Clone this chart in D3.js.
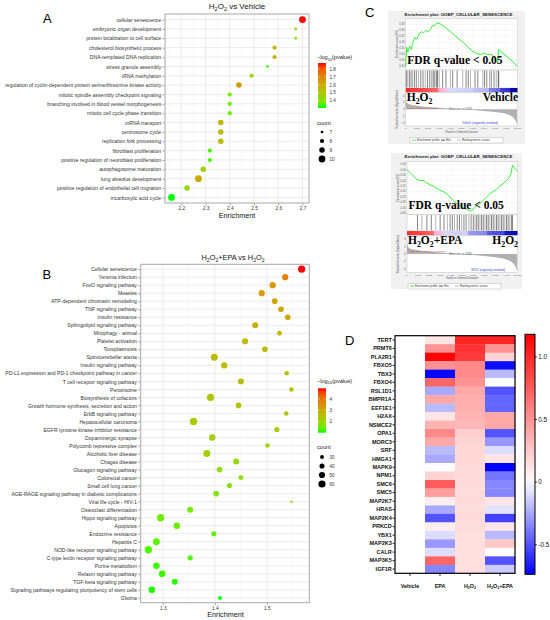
<!DOCTYPE html>
<html>
<head>
<meta charset="utf-8">
<script src="https://cdn.jsdelivr.net/npm/d3@7"></script>
<style>
  body { margin: 0; background: #fff; }
  svg { display: block; }
  text { font-family: "Liberation Sans", Arial, sans-serif; }
</style>
</head>
<body>
<svg id="fig" width="550" height="620"></svg>
<script>
// ---------- panel A : H2O2 vs Vehicle (GO terms)
const termsA = ['cellular senescence', 'embryonic organ development', 'protein localization to cell surface',
  'cholesterol biosynthetic process', 'DNA-templated DNA replication', 'stress granule assembly', 'tRNA methylation',
  'regulation of cyclin-dependent protein serine/threonine kinase activity', 'mitotic spindle assembly checkpoint signaling',
  'branching involved in blood vessel morphogenesis', 'mitotic cell cycle phase transition', 'mRNA transport',
  'centrosome cycle', 'replication fork processing', 'fibroblast proliferation',
  'positive regulation of neuroblast proliferation', 'autophagosome maturation', 'lung alveolus development',
  'positive regulation of endothelial cell migration', 'tricarboxylic acid cycle'];
const enrichA = [2.70, 2.672, 2.672, 2.585, 2.585, 2.556, 2.49, 2.438, 2.40, 2.40, 2.40, 2.363, 2.363, 2.363,
  2.318, 2.318, 2.291, 2.271, 2.224, 2.16];
const countA = [10, 7, 7, 8, 8, 7, 8, 9, 8, 8, 8, 9, 9, 9, 8, 8, 9, 10, 9, 10];
const logpA = [1.875, 1.40, 1.40, 1.57, 1.57, 1.33, 1.45, 1.64, 1.38, 1.38, 1.38, 1.55, 1.55, 1.55,
  1.34, 1.34, 1.48, 1.60, 1.45, 1.31];
const ticksA = [2.2, 2.3, 2.4, 2.5, 2.6, 2.7];
const colTicksA = [1.4, 1.5, 1.6, 1.7, 1.8];
const countLegA = [7, 8, 9, 10];

// ---------- panel B : H2O2+EPA vs H2O2 (KEGG)
const termsB = ['Cellular senescence', 'Yersinia infection', 'FoxO signaling pathway', 'Measles',
  'ATP-dependent chromatin remodeling', 'TNF signaling pathway', 'Insulin resistance', 'Sphingolipid signaling pathway',
  'Mitophagy - animal', 'Platelet activation', 'Toxoplasmosis', 'Spinocerebellar ataxia', 'Insulin signaling pathway',
  'PD-L1 expression and PD-1 checkpoint pathway in cancer', 'T cell receptor signaling pathway', 'Peroxisome',
  'Biosynthesis of cofactors', 'Growth hormone synthesis, secretion and action', 'ErbB signaling pathway',
  'Hepatocellular carcinoma', 'EGFR tyrosine kinase inhibitor resistance', 'Dopaminergic synapse',
  'Polycomb repressive complex', 'Alcoholic liver disease', 'Chagas disease', 'Glucagon signaling pathway',
  'Colorectal cancer', 'Small cell lung cancer', 'AGE-RAGE signaling pathway in diabetic complications',
  'Viral life cycle - HIV-1', 'Osteoclast differentiation', 'Hippo signaling pathway', 'Apoptosis',
  'Endocrine resistance', 'Hepatitis C', 'NOD-like receptor signaling pathway', 'C-type lectin receptor signaling pathway',
  'Purine metabolism', 'Relaxin signaling pathway', 'TGF-beta signaling pathway',
  'Signaling pathways regulating pluripotency of stem cells', 'Glioma'];
const enrichB = [1.5666, 1.535, 1.511, 1.49, 1.515, 1.527, 1.540, 1.4775, 1.524, 1.458, 1.496, 1.399, 1.418,
  1.538, 1.45, 1.547, 1.3916, 1.4455, 1.537, 1.359, 1.519, 1.395, 1.501, 1.3846, 1.441, 1.409, 1.45, 1.428,
  1.4025, 1.547, 1.3525, 1.296, 1.327, 1.398, 1.2877, 1.2723, 1.3525, 1.2877, 1.2987, 1.323, 1.279, 1.41];
const countB = [62, 50, 50, 50, 45, 45, 45, 48, 38, 50, 45, 58, 52, 35, 48, 35, 60, 45, 35, 62, 40, 52, 35, 58,
  48, 45, 38, 40, 45, 20, 48, 62, 52, 40, 58, 62, 42, 55, 55, 48, 55, 30];
const logpB = [4.94, 3.77, 3.38, 3.30, 3.18, 3.10, 3.06, 2.90, 2.79, 2.67, 2.67, 2.60, 2.60, 2.52, 2.52, 2.48,
  2.48, 2.44, 2.40, 2.32, 2.28, 2.20, 2.20, 2.12, 2.00, 1.89, 1.81, 1.81, 1.73, 1.66, 1.58, 1.50, 1.46, 1.42,
  1.34, 1.26, 1.26, 1.19, 1.15, 1.10, 1.07, 1.03];
const ticksB = [1.3, 1.4, 1.5];
const colTicksB = [2, 3, 4];
const countLegB = [30, 40, 50, 60];

// ---------- panel C : GSEA running enrichment scores
const rankTicks = [0, 1000, 2000, 3000, 4000, 5000, 6000, 7000, 8000, 9000, 10000];
const esTicksTop = [0, 0.05, 0.10, 0.15, 0.20, 0.25, 0.30, 0.35];
const esTicksBot = [0.05, 0, -0.05, -0.10, -0.15, -0.20, -0.25, -0.30, -0.35, -0.40];
const topRank = [0, 80, 200, 350, 500, 650, 800, 1000, 1200, 1400, 1600, 1800, 2000, 2200, 2400, 2600, 2800,
  3100, 3500, 4000, 4500, 5000, 5500, 5900, 6300, 6700, 7000, 7300, 7700, 8000, 8250, 8300, 8700, 9200, 9700, 9950];
const topES = [0, 0.16, 0.12, 0.17, 0.14, 0.20, 0.24, 0.23, 0.27, 0.29, 0.28, 0.30, 0.29, 0.31, 0.34, 0.34, 0.365,
  0.355, 0.33, 0.29, 0.25, 0.21, 0.17, 0.13, 0.11, 0.10, 0.11, 0.10, 0.10, 0.06, 0.035, 0.14, 0.11, 0.07, 0.03, 0];
const topHits = [60, 180, 330, 480, 620, 780, 950, 1150, 1350, 1550, 1750, 1950, 2150, 2300, 2450, 2550, 2700,
  2780, 2850, 3000, 3300, 3600, 4000, 4200, 4600, 5100, 5400, 5600, 5800, 6200, 6450, 6900, 7050, 7250, 7500,
  7650, 7900, 8100, 8280, 8320];
const botRank = [0, 300, 600, 900, 1200, 1500, 1800, 2100, 2400, 2700, 3000, 3300, 3600, 3900, 4200, 4500, 4800,
  5100, 5400, 5700, 6000, 6300, 6600, 6900, 7200, 7500, 7800, 8100, 8400, 8700, 9000, 9200, 9400, 9550, 9700, 9950];
const botES = [0, -0.03, -0.06, -0.09, -0.10, -0.10, -0.12, -0.14, -0.15, -0.17, -0.19, -0.20, -0.22, -0.25,
  -0.28, -0.31, -0.33, -0.35, -0.36, -0.38, -0.36, -0.33, -0.31, -0.28, -0.25, -0.22, -0.20, -0.18, -0.15,
  -0.13, -0.10, -0.08, -0.04, 0.04, 0.02, -0.01];
const botHits = [950, 1350, 1800, 2200, 2600, 3000, 3350, 3650, 3900, 4100, 4300, 4550, 4750, 4950, 5150, 5350,
  5600, 5800, 6000, 6150, 6300, 6450, 6600, 6750, 6900, 7050, 7200, 7350, 7500, 7650, 7800, 7950, 8100, 8250,
  8400, 8550, 8700, 8850, 9000, 9150, 9300, 9450, 9550];
const metricRank = [0, 40, 120, 300, 600, 1000, 1500, 2000, 3000, 4000, 4873, 6000, 7000, 8000, 8800, 9300, 9600, 9800, 9950];
const topMetric = [4.2, 2.6, 1.9, 1.5, 1.25, 1.05, 0.85, 0.7, 0.45, 0.2, 0, -0.25, -0.5, -0.8, -1.2, -1.7, -2.4, -3.2, -4.4];
const botMetric = [3.8, 2.4, 1.8, 1.4, 1.2, 1.0, 0.8, 0.65, 0.4, 0.18, 0, -0.3, -0.55, -0.9, -1.3, -1.8, -2.5, -3.3, -4.6];
const metricTicks = [4, 2, 0, -2, -4];

// ---------- panel D : heatmap
const genes = ['TERT', 'PRMT6', 'PLA2R1', 'FBXO5', 'TBX3', 'FBXO4', 'RSL1D1', 'BMPR1A', 'EEF1E1', 'H2AX',
  'NSMCE2', 'OPA1', 'MORC3', 'SRF', 'HMGA1', 'MAPK9', 'NPM1', 'SMC6', 'SMC5', 'MAP2K7', 'HRAS', 'MAP2K4',
  'PRKCD', 'YBX1', 'MAP2K3', 'CALR', 'MAP3K5', 'IGF1R'];
const groups = ['Vehicle', 'EPA', 'H2O2', 'H2O2+EPA'];
const valVehicle = [0, 0, 0, 0, 0, 0, 0, 0, 0, 0, 0, 0, 0, 0, 0, 0, 0, 0, 0, 0, 0, 0, 0, 0, 0, 0, 0, 0];
const valEPA = [0.12, 0.5, 1.15, 0.5, -0.73, 0.7, -0.25, 0.4, -0.2, 0.12, 0.35, 0.55, 0.4, -0.2, -0.25, 0,
  0.2, 0.75, 0.45, 0.08, -0.25, -0.5, 0.08, -0.1, -0.3, -0.1, 0.7, -0.35];
const valH2O2 = [1.0, 0.95, 0.9, 0.55, 0.55, 0.5, 0.4, 0.38, 0.37, 0.35, 0.33, 0.22, 0.2, 0.18, 0.18, 0.17,
  0.16, 0.16, 0.16, 0.16, 0.16, 0.16, 0.16, 0.15, 0.15, 0.15, 0.15, 0.15];
const valCombo = [1.0, 0.5, 0.2, -0.7, -0.2, 0, -0.5, -0.45, -0.45, 0.4, 0.4, -0.5, -0.3, -0.1, 0.12, -0.78,
  -0.4, -0.35, -0.35, 0.12, -0.08, -0.55, 0.12, -0.2, 0.25, 0, -0.5, -0.15];
const heatTicks = [1.0, 0.5, 0, -0.5];

const svg = d3.select('#fig');
const defs = svg.append('defs');
const SERIF = '"Liberation Serif", "Times New Roman", serif';

// text with subscripts: parts beginning with "_" are lowered
function rich(t, parts, fs) {
  let low = false;
  parts.forEach(p => {
    const sub = p[0] === '_';
    const ts = t.append('tspan').text(sub ? p.slice(1) : p);
    if (sub && !low) { ts.attr('dy', fs * 0.28); low = true; }
    else if (!sub && low) { ts.attr('dy', -fs * 0.28); low = false; }
    if (sub) ts.attr('font-size', fs * 0.68);
  });
  return t;
}
const chemParts = s => s.replace(/H2O2/g, 'H|_2|O|_2|').split('|').filter(d => d.length);

function letter(l, x, y) {
  svg.append('text').attr('x', x).attr('y', y).attr('font-size', 13).text(l);
}

// ---------- ggplot-like bubble chart
function dotPlot(o) {
  const g = svg.append('g');
  const ext = d3.extent(o.enrich), span = ext[1] - ext[0];
  const x = d3.scaleLinear().domain([ext[0] - span * 0.05, ext[1] + span * 0.05]).range([o.left, o.right]);
  const y = d3.scalePoint().domain(o.terms).range([o.top, o.bottom]).padding(0.6);
  const lp = d3.extent(o.logp);
  const col = d3.scaleLinear().domain(lp).range(['#00ff00', '#ff0000']).interpolate(d3.interpolateLab);
  const r = d3.scaleSqrt().domain(o.rDomain).range(o.rRange);

  g.append('rect').attr('x', o.left).attr('y', o.top).attr('width', o.right - o.left)
    .attr('height', o.bottom - o.top).attr('fill', '#fff');
  const step = o.ticks[1] - o.ticks[0];
  const minor = d3.range(o.ticks[0] - step / 2, o.ticks[o.ticks.length - 1] + step, step)
    .filter(v => v > x.domain()[0] && v < x.domain()[1]);
  g.selectAll('.mn').data(minor).join('line').attr('class', 'mn')
    .attr('x1', d => x(d)).attr('x2', d => x(d)).attr('y1', o.top).attr('y2', o.bottom)
    .attr('stroke', '#f1f1f1').attr('stroke-width', 0.45);
  g.selectAll('.mj').data(o.ticks).join('line').attr('class', 'mj')
    .attr('x1', d => x(d)).attr('x2', d => x(d)).attr('y1', o.top).attr('y2', o.bottom)
    .attr('stroke', '#e4e4e4').attr('stroke-width', 0.7);
  g.selectAll('.hz').data(o.terms).join('line').attr('class', 'hz')
    .attr('x1', o.left).attr('x2', o.right).attr('y1', d => y(d)).attr('y2', d => y(d))
    .attr('stroke', '#e4e4e4').attr('stroke-width', 0.7);

  g.selectAll('circle.pt').data(o.terms).join('circle').attr('class', 'pt')
    .attr('cx', (d, i) => x(o.enrich[i])).attr('cy', d => y(d))
    .attr('r', (d, i) => r(o.count[i])).attr('fill', (d, i) => col(o.logp[i]));

  g.append('rect').attr('x', o.left).attr('y', o.top).attr('width', o.right - o.left)
    .attr('height', o.bottom - o.top).attr('fill', 'none').attr('stroke', '#a8a8a8').attr('stroke-width', 1);

  const ya = g.append('g').attr('transform', `translate(${o.left - 0.5},0)`)
    .call(d3.axisLeft(y).tickSize(2).tickPadding(1.3));
  const xa = g.append('g').attr('transform', `translate(0,${o.bottom + 0.5})`)
    .call(d3.axisBottom(x).tickValues(o.ticks).tickSize(2).tickPadding(1).tickFormat(d3.format('.1f')));
  [ya, xa].forEach(a => {
    a.select('.domain').remove();
    a.selectAll('line').attr('stroke', '#444').attr('stroke-width', 0.5);
    a.selectAll('text').attr('font-size', o.labSize).attr('fill', '#333').attr('font-family', null);
  });
  xa.selectAll('text').attr('font-size', 4.8);

  rich(g.append('text').attr('x', o.titleX).attr('y', o.titleY).attr('text-anchor', 'middle')
    .attr('font-size', o.titleSize).attr('fill', '#111'), o.title, o.titleSize);
  g.append('text').attr('x', o.xlabX).attr('y', o.xlabY).attr('text-anchor', 'middle')
    .attr('font-size', 7.2).attr('fill', '#111').text('Enrichment');

  // colour legend
  const L = o.leg;
  rich(g.append('text').attr('x', L.x - 1).attr('y', L.titleY).attr('font-size', 5.6).attr('fill', '#222'),
    ['−log', '_10', '(pvalue)'], 5.6);
  const grad = defs.append('linearGradient').attr('id', 'g' + o.id)
    .attr('x1', 0).attr('y1', 1).attr('x2', 0).attr('y2', 0);
  d3.range(0, 1.001, 0.1).forEach(t => grad.append('stop').attr('offset', t).attr('stop-color', col(lp[0] + t * (lp[1] - lp[0]))));
  g.append('rect').attr('x', L.x).attr('y', L.barTop).attr('width', 8).attr('height', L.barBottom - L.barTop)
    .attr('fill', `url(#g${o.id})`);
  const cy = d3.scaleLinear().domain(lp).range([L.barBottom, L.barTop]);
  o.colTicks.forEach(v => {
    [[L.x, L.x + 1.6], [L.x + 6.4, L.x + 8]].forEach(([a, b]) => g.append('line')
      .attr('x1', a).attr('x2', b).attr('y1', cy(v)).attr('y2', cy(v)).attr('stroke', '#fff').attr('stroke-width', 0.5));
    g.append('text').attr('x', L.x + 11.5).attr('y', cy(v) + 1.6).attr('font-size', 4.6).attr('fill', '#333').text(v);
  });
  // size legend
  g.append('text').attr('x', L.x - 1).attr('y', L.cntTitleY).attr('font-size', 5.6).attr('fill', '#222').text('count');
  o.countLeg.forEach((v, i) => {
    const yy = L.cntY0 + i * L.cntStep;
    g.append('circle').attr('cx', L.x + 4).attr('cy', yy).attr('r', r(v)).attr('fill', '#000');
    g.append('text').attr('x', L.x + 11.5).attr('y', yy + 1.6).attr('font-size', 4.6).attr('fill', '#333').text(v);
  });
}

dotPlot({
  id: 'a', terms: termsA, enrich: enrichA, count: countA, logp: logpA,
  left: 165, right: 309, top: 14, bottom: 203, ticks: ticksA, colTicks: colTicksA, countLeg: countLegA,
  rDomain: [7, 10], rRange: [1.35, 3.4], labSize: 5.1,
  title: chemParts('H2O2 vs Vehicle'), titleX: 237, titleY: 8.8, titleSize: 8,
  xlabX: 237, xlabY: 217.5,
  leg: { x: 318, titleY: 59, barTop: 63, barBottom: 108, cntTitleY: 125, cntY0: 132, cntStep: 9 }
});
dotPlot({
  id: 'b', terms: termsB, enrich: enrichB, count: countB, logp: logpB,
  left: 140.7, right: 309.3, top: 264.3, bottom: 602.7, ticks: ticksB, colTicks: colTicksB, countLeg: countLegB,
  rDomain: [20, 65], rRange: [1.2, 3.8], labSize: 5.1,
  title: chemParts('H2O2+EPA vs H2O2'), titleX: 233, titleY: 259.5, titleSize: 7.4,
  xlabX: 225.5, xlabY: 616.5,
  leg: { x: 318, titleY: 382.7, barTop: 388.3, barBottom: 432.7, cntTitleY: 449, cntY0: 457, cntStep: 9 }
});

// ---------- GSEA enrichment plot
function gsea(o) {
  const g = svg.append('g');
  g.append('rect').attr('x', o.box[0]).attr('y', o.box[1]).attr('width', o.box[2]).attr('height', o.box[3])
    .attr('fill', '#f1f1f1');
  g.append('text').attr('x', o.box[0] + o.box[2] / 2 + 2).attr('y', o.box[1] + 5).attr('text-anchor', 'middle')
    .attr('font-size', 4.4).attr('font-weight', 'bold').attr('fill', '#222').text('Enrichment plot: GOBP_CELLULAR_SENESCENCE');
  const x = d3.scaleLinear().domain([0, 10000]).range([o.left, o.right]);
  const yES = d3.scaleLinear().domain(o.esDomain).range([o.esBottom, o.esTop]);
  const yM = d3.scaleLinear().domain([-5, 5]).range([o.mBottom, o.mTop]);
  const panel = (y0, y1) => g.append('rect').attr('x', o.left).attr('y', y0).attr('width', o.right - o.left)
    .attr('height', y1 - y0).attr('fill', '#fff').attr('stroke', '#b5b5b5').attr('stroke-width', 0.4);

  // ES panel
  panel(o.esTop, o.esBottom);
  o.esTicks.forEach(v => {
    g.append('line').attr('x1', o.left).attr('x2', o.right).attr('y1', yES(v)).attr('y2', yES(v))
      .attr('stroke', '#e6e6e6').attr('stroke-width', 0.3);
    g.append('text').attr('x', o.left - 1.2).attr('y', yES(v) + 0.9).attr('text-anchor', 'end')
      .attr('font-size', 2.7).attr('fill', '#555').text(v.toFixed(2));
  });
  rankTicks.forEach(v => g.append('line').attr('x1', x(v)).attr('x2', x(v)).attr('y1', o.esTop).attr('y2', o.esBottom)
    .attr('stroke', '#ececec').attr('stroke-width', 0.3));
  g.append('text').attr('transform', `translate(${o.left - 8},${(o.esTop + o.esBottom) / 2}) rotate(-90)`)
    .attr('text-anchor', 'middle').attr('font-size', 2.8).attr('fill', '#555').text('Enrichment score (ES)');
  g.append('path').datum(o.esRank).attr('fill', 'none').attr('stroke', '#22ee22').attr('stroke-width', 0.9)
    .attr('d', d3.line().x(d => x(d)).y((d, i) => yES(o.es[i])));

  // hits
  panel(o.esBottom, o.hitBottom);
  g.selectAll(null).data(o.hits).join('line')
    .attr('x1', d => x(d)).attr('x2', d => x(d)).attr('y1', o.esBottom + 0.5).attr('y2', o.hitBottom - 0.5)
    .attr('stroke', (d, i) => i % 3 === 1 ? '#777' : '#222').attr('stroke-width', 0.55);

  // heat bar
  const hg = defs.append('linearGradient').attr('id', 'h' + o.id);
  o.heat.forEach(([t, c]) => hg.append('stop').attr('offset', t).attr('stop-color', c));
  g.append('rect').attr('x', o.left).attr('y', o.hitBottom).attr('width', o.right - o.left)
    .attr('height', o.mTop - o.hitBottom).attr('fill', `url(#h${o.id})`);

  // ranked list metric
  panel(o.mTop, o.mBottom);
  g.append('path').datum(metricRank).attr('fill', '#b0b0b0')
    .attr('d', d3.area().x(d => x(d)).y0(yM(0)).y1((d, i) => yM(o.metric[i])));
  metricTicks.forEach(v => g.append('text').attr('x', o.left - 1.2).attr('y', yM(v) + 0.9).attr('text-anchor', 'end')
    .attr('font-size', 2.7).attr('fill', '#555').text(v));
  g.append('text').attr('transform', `translate(${o.left - 8},${(o.mTop + o.mBottom) / 2}) rotate(-90)`)
    .attr('text-anchor', 'middle').attr('font-size', 2.6).attr('fill', '#555').text('Ranked list metric (Signal2Noise)');
  g.append('text').attr('x', x(o.zeroCross)).attr('y', yM(0) + 0.9).attr('text-anchor', 'middle')
    .attr('font-size', 2.6).attr('fill', '#444').text('Zero cross at ' + d3.format(',')(o.zeroCross));
  g.append('text').attr('x', o.left + 1).attr('y', o.posY).attr('font-size', 2.5).attr('fill', '#e03030')
    .text(o.posLabel);
  g.append('text').attr('x', o.negX).attr('y', o.mBottom - 2).attr('text-anchor', 'middle')
    .attr('font-size', 2.6).attr('fill', '#3030e0').text(o.negLabel);

  rankTicks.forEach(v => g.append('text').attr('x', x(v)).attr('y', o.mBottom + 3).attr('text-anchor', 'middle')
    .attr('font-size', 2.5).attr('fill', '#555').text(d3.format(',')(v)));
  g.append('text').attr('x', (o.left + o.right) / 2).attr('y', o.mBottom + 6.8).attr('text-anchor', 'middle')
    .attr('font-size', 2.9).attr('fill', '#555').text('Rank in Ordered Dataset');

  // legend
  const lx = o.legBox[0], ly = o.legBox[1];
  g.append('rect').attr('x', lx).attr('y', ly).attr('width', 93).attr('height', 5.8)
    .attr('fill', '#fff').attr('stroke', '#999').attr('stroke-width', 0.35);
  [['Enrichment profile', '#22ee22', 2], ['Hits', '#222', 31], ['Ranking metric scores', '#aaa', 47]].forEach(([t, c, dx]) => {
    g.append('line').attr('x1', lx + dx).attr('x2', lx + dx + 4).attr('y1', ly + 2.9).attr('y2', ly + 2.9)
      .attr('stroke', c).attr('stroke-width', 0.8);
    g.append('text').attr('x', lx + dx + 5).attr('y', ly + 3.9).attr('font-size', 2.8).attr('fill', '#333').text(t);
  });

  // overlaid annotations (serif, set via style so the sheet rule does not win)
  g.append('text').attr('x', o.left + 1.5).attr('y', o.fdrY).style('font-family', SERIF).attr('font-weight', 'bold')
    .attr('font-size', 11.5).text('FDR q-value < 0.05');
  rich(g.append('text').attr('x', o.left + 1).attr('y', o.grpY).style('font-family', SERIF).attr('font-weight', 'bold')
    .attr('font-size', 11.5), chemParts(o.grpL), 11.5);
  rich(g.append('text').attr('x', o.right + 0.5).attr('y', o.grpY).attr('text-anchor', 'end').style('font-family', SERIF)
    .attr('font-weight', 'bold').attr('font-size', 11.5), chemParts(o.grpR), 11.5);
}

gsea({
  id: 't', box: [388, 11, 137, 133], left: 405.7, right: 517.5,
  esTop: 18.5, esBottom: 70, hitBottom: 88, mTop: 92.5, mBottom: 126,
  esDomain: [-0.03, 0.40], esTicks: esTicksTop, esRank: topRank, es: topES, hits: topHits, metric: topMetric,
  zeroCross: 4873, posLabel: "'H2O2' (positively correlated)", posY: 108.8,
  negLabel: "'Vehicle' (negatively correlated)", negX: 480,
  heat: [[0, '#ff2a2a'], [0.15, '#ff4848'], [0.29, '#ff6a6a'], [0.295, '#f7b0d4'], [0.37, '#f5c4e0'],
    [0.375, '#d8d8fa'], [0.6, '#d0d0f7'], [0.605, '#c2c2f4'], [0.74, '#b6b6f2'], [0.745, '#8282ec'],
    [0.84, '#6c6ce8'], [0.845, '#4444dc'], [0.93, '#2a2ad0'], [0.935, '#0a0ab8'], [1, '#00008c']],
  legBox: [410, 137.2], fdrY: 63.5, grpY: 101, grpL: 'H2O2', grpR: 'Vehicle'
});
gsea({
  id: 'b', box: [391, 153, 131, 136], left: 407, right: 517.5,
  esTop: 161.5, esBottom: 214.5, hitBottom: 231, mTop: 235.5, mBottom: 272.5,
  esDomain: [-0.41, 0.075], esTicks: esTicksBot, esRank: botRank, es: botES, hits: botHits, metric: botMetric,
  zeroCross: 4829, posLabel: "'H2O2+EPA' (positively correlated)", posY: 252,
  negLabel: "'H2O2' (negatively correlated)", negX: 488,
  heat: [[0, '#ff2a2a'], [0.14, '#ff4a4a'], [0.24, '#ff6c6c'], [0.245, '#f7b0d4'], [0.33, '#f4c2df'],
    [0.335, '#d8d8fa'], [0.55, '#cdcdf6'], [0.555, '#9a9af0'], [0.72, '#8686ec'], [0.725, '#5a5ae2'],
    [0.88, '#4444dc'], [0.885, '#1c1cc8'], [1, '#0000a0']],
  legBox: [408, 283.2], fdrY: 209, grpY: 244, grpL: 'H2O2+EPA', grpR: 'H2O2'
});

// ---------- heatmap D
(function heatmap() {
  const g = svg.append('g');
  const cols = [valVehicle, valEPA, valH2O2, valCombo];
  const x = d3.scaleBand().domain(groups).range([395, 515]);
  const y = d3.scaleBand().domain(genes).range([335.7, 573.3]);
  const col = d3.scaleLinear().domain([-0.74, 0, 1.177]).range(['#0000ff', '#ffffff', '#ff0000']);
  groups.forEach((grp, j) => {
    g.selectAll(null).data(genes).join('rect')
      .attr('x', x(grp)).attr('y', d => y(d)).attr('width', x.bandwidth() + 0.3).attr('height', y.bandwidth() + 0.3)
      .attr('fill', (d, i) => col(cols[j][i]));
  });
  g.append('rect').attr('x', 395).attr('y', 335.7).attr('width', 120).attr('height', 237.6)
    .attr('fill', 'none').attr('stroke', '#000').attr('stroke-width', 1.2);
  const ya = g.append('g').attr('transform', 'translate(394.6,0)').call(d3.axisLeft(y).tickSize(2).tickPadding(0.8));
  const xa = g.append('g').attr('transform', 'translate(0,573.9)').call(d3.axisBottom(x).tickSize(2).tickPadding(7).tickFormat(''));
  [ya, xa].forEach(a => {
    a.select('.domain').remove();
    a.selectAll('line').attr('stroke', '#000').attr('stroke-width', 0.9);
  });
  ya.selectAll('text').attr('font-size', 5.5).attr('font-weight', 'bold').attr('fill', '#111').attr('font-family', null);
  groups.forEach(grp => rich(g.append('text').attr('x', x(grp) + x.bandwidth() / 2).attr('y', 587.5)
    .attr('text-anchor', 'middle').attr('font-size', 5.4).attr('font-weight', 'bold').attr('fill', '#111'),
    chemParts(grp), 5.4));

  // colour bar
  const grad = defs.append('linearGradient').attr('id', 'hm').attr('x1', 0).attr('y1', 1).attr('x2', 0).attr('y2', 0);
  d3.range(0, 1.001, 0.05).forEach(t => grad.append('stop').attr('offset', t).attr('stop-color', col(-0.74 + t * (1.177 + 0.74))));
  g.append('rect').attr('x', 525).attr('y', 334.3).attr('width', 10).attr('height', 240)
    .attr('fill', 'url(#hm)').attr('stroke', '#000').attr('stroke-width', 1);
  const cy = d3.scaleLinear().domain([-0.74, 1.177]).range([574.3, 334.3]);
  const ca = g.append('g').attr('transform', 'translate(535,0)')
    .call(d3.axisRight(cy).tickValues(heatTicks).tickSize(1.8).tickPadding(1.5).tickFormat(d => d === 0 ? '0' : d.toFixed(1)));
  ca.select('.domain').remove();
  ca.selectAll('line').attr('stroke', '#000').attr('stroke-width', 0.9);
  ca.selectAll('text').attr('font-size', 6.3).attr('fill', '#111').attr('font-family', null);
})();

letter('A', 43, 22.7);
letter('B', 42.5, 279);
letter('C', 365, 16.7);
letter('D', 345, 345);
</script>
</body>
</html>
